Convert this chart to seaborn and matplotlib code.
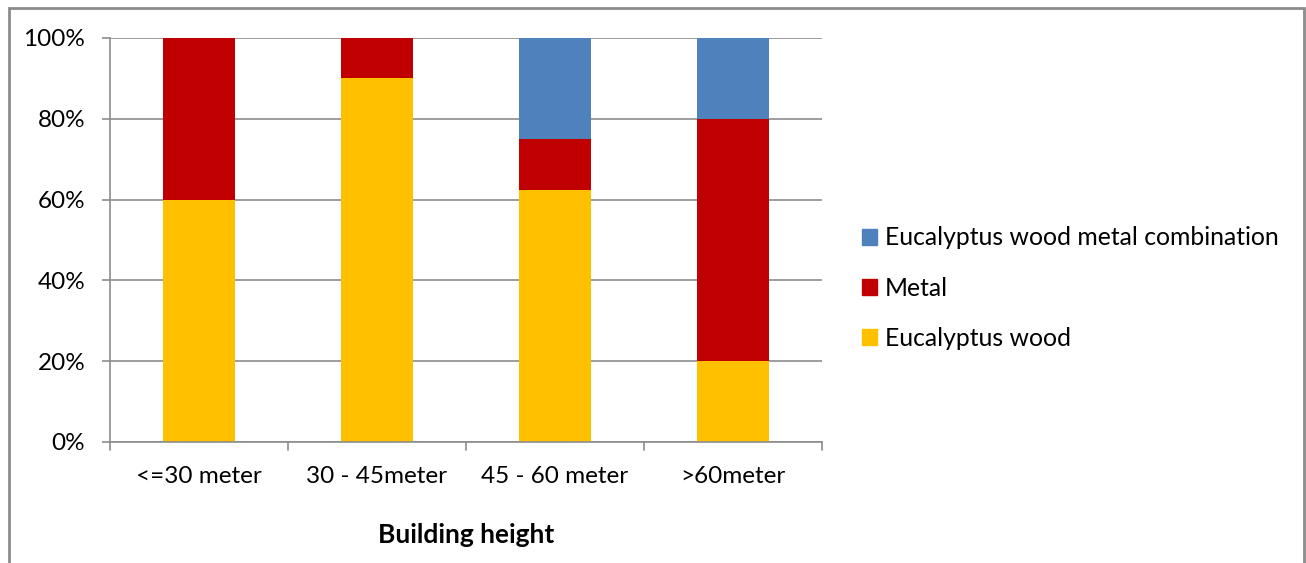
import matplotlib
matplotlib.use("Agg")
import matplotlib.pyplot as plt
from matplotlib.patches import Rectangle
from matplotlib.ticker import PercentFormatter
import numpy as np
import pandas as pd
import seaborn as sns

categories = ["<=30 meter", "30 - 45meter", "45 - 60 meter", ">60meter"]
eucalyptus_wood = [60.0, 90.0, 62.5, 20.0]
metal = [40.0, 10.0, 12.5, 60.0]
combination = [0.0, 0.0, 25.0, 20.0]
series_names = ["Eucalyptus wood", "Metal", "Eucalyptus wood metal combination"]
series_colors = ["#FFC000", "#C00000", "#4F81BD"]
y_ticks = [0, 20, 40, 60, 80, 100]

sns.set_theme(style="white")
plt.rcParams["font.family"] = ["Lato", "DejaVu Sans"]
plt.rcParams["text.color"] = "black"

df = pd.DataFrame({
    "height": categories,
    series_names[0]: eucalyptus_wood,
    series_names[1]: metal,
    series_names[2]: combination,
})

fig = plt.figure(figsize=(13.06, 5.63), dpi=100)
ax = fig.add_axes([110 / 1306, 1 - 442 / 563, (822 - 110) / 1306, (442 - 38) / 563])

# Stack by drawing cumulative totals, tallest first, so each lower segment sits on top
cumulative = np.cumsum(df[series_names].to_numpy(), axis=1)
for idx in reversed(range(len(series_names))):
    sns.barplot(x=df["height"], y=cumulative[:, idx], color=series_colors[idx],
                width=0.4, ax=ax, saturation=1, errorbar=None, linewidth=0)

ax.set_ylim(0, 100)
ax.set_xlim(-0.5, 3.5)
ax.set_yticks(y_ticks)
ax.yaxis.set_major_formatter(PercentFormatter(decimals=0))
ax.grid(axis="y", color="#8C8C8C", linewidth=1.2)
ax.set_axisbelow(True)

for side in ["top", "right"]:
    ax.spines[side].set_visible(False)
for side in ["left", "bottom"]:
    ax.spines[side].set_color("#8C8C8C")
    ax.spines[side].set_linewidth(1.2)

ax.tick_params(axis="y", left=True, length=5.8, width=1.2, color="#8C8C8C",
               labelsize=17.5, pad=12, labelcolor="black")
ax.set_xticks([0, 1, 2, 3])
ax.set_xticklabels(categories, fontsize=17.5)
ax.tick_params(axis="x", bottom=False, pad=11, labelcolor="black")
for b in [-0.5, 0.5, 1.5, 2.5, 3.5]:
    ax.plot([b, b], [0, -2], color="#8C8C8C", linewidth=1.2, clip_on=False)
ax.set_ylim(0, 100)
ax.set_xlabel("Building height", fontsize=19, fontweight="bold", labelpad=26,
              color="black")
ax.set_ylabel("")

legend_handles = [Rectangle((0, 0), 1, 1, color=c) for c in reversed(series_colors)]
fig.legend(legend_handles, list(reversed(series_names)), loc="center left",
           bbox_to_anchor=(862 / 1306, 1 - 288 / 563), frameon=False,
           fontsize=17.8, handlelength=0.62, handleheight=0.62,
           labelspacing=1.1, handletextpad=0.3, borderpad=0, borderaxespad=0)

fig.patches.append(Rectangle((9 / 1306, -0.05), (1304 - 9) / 1306, 1.05 - 8 / 563,
                             transform=fig.transFigure, fill=False,
                             edgecolor="#8C8C8C", linewidth=2))

fig.savefig("out.png", dpi=100)
